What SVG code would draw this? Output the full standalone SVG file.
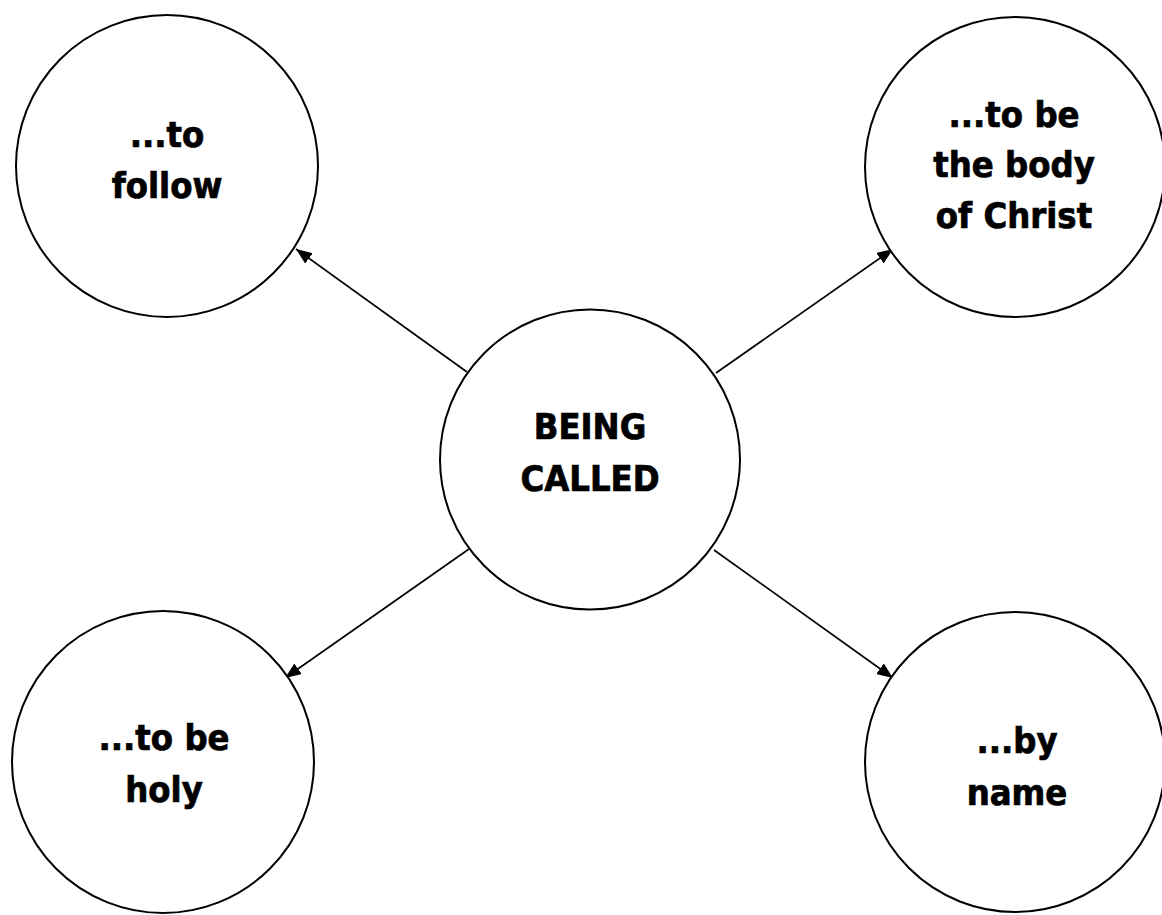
<svg xmlns="http://www.w3.org/2000/svg" width="1162" height="915" viewBox="0 0 1162 915">
<style>
.node circle{fill:#fff;stroke:#000;stroke-width:2}
.node text{font-family:"DejaVu Sans Condensed","DejaVu Sans",sans-serif;font-weight:bold;font-size:36px;fill:#000;stroke:#000;stroke-width:0.7;text-anchor:middle}
.edge{stroke:#000;stroke-width:1.7;fill:none;marker-end:url(#arr)}
</style>
<defs>
<marker id="arr" markerUnits="userSpaceOnUse" markerWidth="17" markerHeight="13" refX="16" refY="6.5" orient="auto">
<path d="M0,0 L16,6.5 L0,13 Z" fill="#000"/>
</marker>
</defs>
<rect width="1162" height="915" fill="#fff"/>
<g id="connectors">
<line class="edge" x1="467" y1="372" x2="296" y2="249"/>
<line class="edge" x1="716" y1="373" x2="893" y2="249"/>
<line class="edge" x1="469" y1="549" x2="285" y2="678"/>
<line class="edge" x1="714" y1="550" x2="893" y2="678"/>
</g>
<g id="node-center" class="node">
<circle cx="590" cy="459.5" r="150"/>
<text x="590" y="439">BEING</text>
<text x="590" y="491">CALLED</text>
</g>
<g id="node-follow" class="node">
<circle cx="167" cy="166" r="151"/>
<text x="167" y="147">...to</text>
<text x="167" y="198">follow</text>
</g>
<g id="node-body" class="node">
<circle cx="1015" cy="167" r="150"/>
<text x="1014" y="127">...to be</text>
<text x="1014" y="177">the body</text>
<text x="1014" y="228">of Christ</text>
</g>
<g id="node-holy" class="node">
<circle cx="163" cy="762" r="151"/>
<text x="164" y="750">...to be</text>
<text x="164" y="802">holy</text>
</g>
<g id="node-name" class="node">
<circle cx="1015" cy="762" r="150"/>
<text x="1017" y="753">...by</text>
<text x="1017" y="805">name</text>
</g>
</svg>
